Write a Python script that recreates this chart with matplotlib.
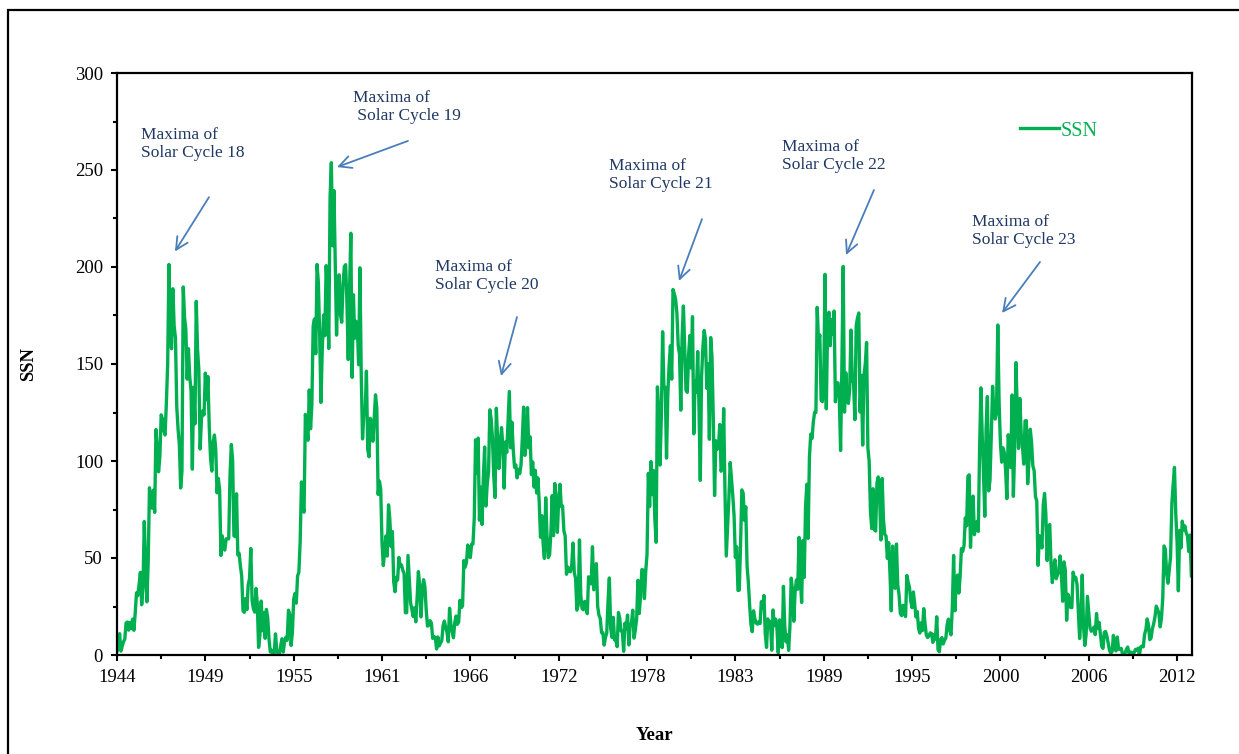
import matplotlib
matplotlib.use("Agg")
import matplotlib.pyplot as plt
from matplotlib.patches import Rectangle
from matplotlib.ticker import MultipleLocator, FixedLocator
import numpy as np

plt.rcParams["font.family"] = ["Liberation Serif", "DejaVu Serif"]

# monthly sunspot numbers, Jan 1944 - Dec 2012, one row per year
ssn_1940s = [
    [1.9, 3.5, 11.0, 2.0, 4.5, 6.8, 8.2, 16.5, 17.0, 12.8, 16.8, 13.6],
    [18.5, 12.7, 21.5, 32.0, 30.6, 36.2, 42.6, 25.9, 34.9, 68.8, 46.0, 27.4],
    [47.6, 86.2, 76.6, 75.7, 84.9, 73.5, 116.2, 107.2, 94.4, 102.3, 123.8, 121.7],
    [115.7, 113.4, 129.8, 149.8, 201.3, 163.9, 157.9, 188.8, 169.4, 163.6, 128.0, 116.5],
    [108.5, 86.1, 94.8, 189.7, 174.0, 167.8, 142.2, 157.9, 143.3, 136.3, 95.8, 138.0],
    [119.1, 182.3, 157.5, 147.0, 106.2, 121.7, 125.8, 123.8, 145.3, 131.6, 143.5, 117.6],
]
ssn_1950s = [
    [101.6, 94.8, 109.7, 113.4, 106.2, 83.6, 91.0, 85.2, 51.3, 61.4, 54.8, 54.1],
    [59.9, 59.9, 59.9, 92.9, 108.5, 100.6, 61.5, 61.0, 83.1, 51.6, 52.4, 45.8],
    [40.7, 22.7, 22.0, 29.1, 23.4, 36.4, 39.3, 54.9, 28.2, 23.8, 22.1, 34.3],
    [26.5, 3.9, 10.0, 27.8, 12.5, 21.8, 8.6, 23.5, 19.3, 8.2, 1.6, 2.5],
    [0.2, 0.5, 10.9, 1.8, 0.8, 0.2, 4.8, 8.4, 1.5, 7.0, 9.2, 7.6],
    [23.1, 20.8, 4.9, 11.3, 28.9, 31.7, 26.7, 40.7, 42.7, 58.5, 89.2, 76.9],
    [73.6, 124.0, 118.4, 110.7, 136.6, 116.6, 129.1, 169.6, 173.2, 155.3, 201.3, 192.1],
    [165.0, 130.2, 157.4, 175.2, 164.6, 200.7, 187.2, 158.0, 235.8, 253.8, 210.9, 239.4],
    [202.5, 164.9, 190.7, 196.0, 175.3, 171.5, 191.4, 200.2, 201.2, 181.5, 152.3, 187.6],
    [217.4, 143.1, 185.7, 163.3, 172.0, 168.7, 149.6, 199.6, 145.2, 111.4, 124.0, 125.0],
]
ssn_1960s = [
    [146.3, 106.0, 102.2, 122.0, 119.6, 110.2, 121.7, 134.1, 127.2, 82.8, 89.6, 85.6],
    [57.9, 46.1, 53.0, 61.4, 51.0, 77.4, 70.2, 55.9, 63.6, 37.7, 32.6, 40.0],
    [38.7, 50.3, 45.6, 46.4, 43.7, 42.0, 21.8, 21.8, 51.3, 39.5, 26.9, 23.2],
    [19.8, 24.4, 17.1, 29.3, 43.0, 35.9, 19.6, 33.2, 38.8, 35.3, 23.4, 14.9],
    [15.3, 17.7, 16.5, 8.6, 9.5, 9.1, 3.1, 9.3, 4.7, 6.1, 7.4, 15.1],
    [17.5, 14.2, 11.7, 6.8, 24.1, 15.9, 11.9, 8.9, 16.8, 20.1, 15.8, 17.0],
    [28.2, 24.4, 25.3, 48.7, 45.3, 47.7, 56.7, 51.2, 50.2, 57.2, 57.2, 70.4],
    [110.9, 93.6, 111.8, 69.5, 86.5, 67.3, 91.5, 107.2, 76.8, 88.2, 94.3, 126.4],
    [121.8, 111.9, 92.2, 81.2, 127.2, 110.3, 96.1, 109.3, 117.2, 107.7, 86.0, 109.8],
    [104.4, 120.5, 135.8, 106.8, 120.0, 106.0, 96.8, 98.0, 91.3, 95.7, 93.5, 97.9],
]
ssn_1970s = [
    [111.5, 127.8, 102.9, 109.5, 127.5, 106.8, 112.5, 93.0, 99.5, 86.6, 95.2, 83.5],
    [91.3, 79.0, 60.7, 71.8, 57.5, 49.8, 81.0, 61.4, 50.2, 51.7, 63.2, 82.2],
    [61.5, 88.4, 80.1, 63.2, 80.5, 88.0, 76.5, 76.8, 64.0, 61.3, 41.6, 45.3],
    [43.4, 42.9, 46.0, 57.7, 42.4, 39.5, 23.1, 25.6, 59.3, 30.7, 23.9, 23.3],
    [27.6, 26.0, 21.3, 40.3, 39.5, 36.6, 55.8, 33.6, 40.2, 47.1, 25.0, 20.5],
    [18.9, 11.5, 11.5, 5.1, 9.0, 11.4, 28.2, 39.7, 13.9, 9.1, 19.4, 7.8],
    [8.1, 4.3, 21.9, 18.8, 12.4, 12.2, 1.9, 16.4, 13.5, 20.6, 5.2, 15.3],
    [16.4, 23.1, 8.7, 12.9, 18.6, 38.5, 21.4, 30.1, 44.0, 43.8, 29.1, 43.2],
    [51.9, 93.6, 76.5, 99.7, 82.7, 95.1, 70.4, 58.1, 138.2, 125.1, 97.9, 122.7],
    [166.6, 137.5, 138.0, 101.5, 134.4, 149.5, 159.4, 142.2, 188.4, 186.2, 183.3, 176.3],
]
ssn_1980s = [
    [159.6, 155.0, 126.2, 164.1, 179.9, 157.3, 136.3, 135.4, 155.0, 164.7, 147.9, 174.4],
    [114.0, 141.3, 135.5, 156.4, 127.5, 90.0, 143.8, 158.7, 167.3, 162.4, 137.5, 150.1],
    [111.2, 163.6, 153.8, 122.0, 82.2, 110.4, 106.1, 107.6, 118.8, 94.7, 98.1, 127.0],
    [84.3, 51.0, 66.5, 80.7, 99.2, 91.1, 82.2, 71.8, 50.3, 55.8, 33.3, 33.4],
    [57.0, 85.1, 83.5, 69.4, 76.4, 46.1, 37.4, 25.5, 15.7, 12.0, 22.8, 18.7],
    [16.5, 15.9, 17.2, 16.2, 27.5, 24.2, 30.7, 11.1, 3.9, 18.6, 16.2, 17.3],
    [2.5, 23.2, 15.1, 18.5, 13.7, 1.1, 18.1, 7.4, 3.8, 35.4, 15.2, 6.8],
    [10.4, 2.4, 14.7, 39.6, 33.0, 17.4, 33.0, 38.7, 33.9, 60.6, 39.9, 27.1],
    [59.0, 40.0, 76.2, 88.0, 60.1, 101.8, 113.8, 111.6, 120.1, 125.1, 125.1, 179.2],
    [161.3, 165.0, 131.4, 130.6, 138.5, 196.2, 126.9, 168.9, 176.7, 159.4, 173.0, 165.5],
]
ssn_1990s = [
    [177.3, 130.5, 140.3, 140.3, 132.2, 105.4, 149.4, 200.3, 125.2, 145.5, 131.4, 129.7],
    [136.9, 167.5, 141.9, 140.0, 121.3, 169.7, 173.7, 176.3, 125.3, 144.1, 108.2, 144.4],
    [150.0, 161.1, 106.7, 99.8, 73.8, 65.2, 85.7, 64.5, 63.9, 88.7, 91.8, 82.6],
    [59.3, 91.0, 69.8, 62.2, 61.3, 49.8, 57.9, 42.3, 22.8, 56.1, 35.0, 34.4],
    [57.2, 36.1, 31.1, 21.3, 20.3, 25.6, 21.9, 19.8, 41.0, 37.6, 35.0, 27.9],
    [24.4, 32.5, 26.8, 19.6, 22.4, 13.7, 11.3, 16.6, 12.6, 23.9, 16.1, 10.2],
    [9.0, 9.9, 11.4, 11.1, 6.5, 10.5, 8.1, 19.7, 2.7, 1.7, 7.9, 9.0],
    [5.7, 7.6, 8.7, 15.5, 18.5, 12.7, 10.4, 24.4, 51.3, 22.8, 39.0, 41.2],
    [31.9, 40.3, 54.8, 53.4, 56.3, 70.7, 66.6, 92.2, 92.9, 55.5, 74.0, 81.9],
    [62.0, 66.3, 68.8, 63.7, 106.4, 137.7, 113.5, 93.7, 71.5, 116.7, 133.2, 84.6],
]
ssn_2000s = [
    [90.1, 112.9, 138.5, 125.5, 121.6, 124.9, 170.1, 130.5, 109.7, 99.4, 106.8, 104.4],
    [95.6, 80.6, 113.5, 107.7, 96.6, 134.0, 81.8, 106.4, 150.7, 125.5, 106.5, 132.2],
    [114.1, 107.4, 98.4, 120.7, 120.8, 88.3, 99.6, 116.4, 109.6, 97.5, 95.0, 81.6],
    [79.5, 46.2, 61.5, 60.0, 55.2, 77.4, 83.3, 72.7, 48.7, 65.5, 67.3, 46.5],
    [37.3, 45.8, 49.1, 39.3, 41.5, 43.2, 51.1, 40.9, 27.7, 48.0, 43.5, 17.9],
    [31.3, 29.2, 24.5, 24.4, 42.7, 39.3, 40.0, 36.4, 22.1, 8.5, 18.0, 41.2],
    [15.3, 4.9, 10.6, 30.2, 22.3, 13.9, 12.2, 12.9, 14.4, 10.5, 21.4, 13.6],
    [16.8, 10.7, 4.5, 3.4, 11.7, 12.1, 9.7, 6.0, 2.4, 0.9, 1.7, 10.1],
    [3.3, 2.1, 9.3, 2.9, 3.2, 3.4, 0.5, 0.5, 1.1, 2.9, 4.1, 0.8],
    [1.5, 1.4, 0.7, 1.2, 2.9, 2.6, 3.5, 0.0, 4.2, 4.6, 4.2, 10.6],
]
ssn_2010s = [
    [13.1, 18.6, 15.4, 7.9, 8.8, 13.5, 16.1, 19.6, 25.2, 23.5, 21.6, 14.5],
    [19.0, 29.4, 56.2, 54.4, 41.6, 37.0, 43.9, 50.6, 78.0, 88.0, 96.7, 73.0],
    [58.3, 33.1, 64.2, 55.2, 69.0, 64.5, 66.5, 63.0, 61.4, 53.3, 61.8, 40.8],
]

tick_years = ["1944", "1949", "1955", "1961", "1966", "1972", "1978",
              "1983", "1989", "1995", "2000", "2006", "2012"]

# (label, text month index, text SSN, arrow start, arrow end)
maxima = [
    ("Maxima of\nSolar Cycle 18", 18.5, 272, (70.8, 236), (44.6, 208)),
    ("Maxima of\n Solar Cycle 19", 181.7, 291, (224, 265), (169.4, 251.5)),
    ("Maxima of\nSolar Cycle 20", 244.8, 204, (307.9, 174.2), (295.6, 143.8)),
    ("Maxima of\nSolar Cycle 21", 378.7, 256, (450.3, 224.7), (432.6, 192.8)),
    ("Maxima of\nSolar Cycle 22", 511.9, 266, (582.7, 239.7), (561.2, 206.2)),
    ("Maxima of\nSolar Cycle 23", 658.2, 227.3, (710.5, 202.6), (681.3, 176.3)),
]

ssn = np.concatenate([np.ravel(d) for d in
                      [ssn_1940s, ssn_1950s, ssn_1960s, ssn_1970s,
                       ssn_1980s, ssn_1990s, ssn_2000s, ssn_2010s]])
months = np.arange(len(ssn))

GREEN = "#00B050"
NAVY = "#1F3864"
ARROW = "#4A7EBB"

fig = plt.figure(figsize=(12.39, 7.54), dpi=100)
ax = fig.add_axes([117 / 1239, 1 - 655 / 754, (1192 - 117) / 1239, (655 - 73) / 754])

ax.plot(months, ssn, color=GREEN, lw=2.4, label="SSN")

ax.set_xlim(0, 827.5)
ax.set_ylim(0, 300)
ax.xaxis.set_major_locator(FixedLocator(np.arange(len(tick_years)) * 68))
ax.set_xticklabels(tick_years)
ax.xaxis.set_minor_locator(MultipleLocator(34))
ax.yaxis.set_major_locator(MultipleLocator(50))
ax.yaxis.set_minor_locator(MultipleLocator(25))

ax.tick_params(which="major", direction="out", length=4, width=1.5,
               labelsize=13.5, pad=6)
ax.tick_params(which="minor", direction="out", length=3, width=1.5)
for s in ax.spines.values():
    s.set_linewidth(1.6)

ax.set_xlabel("Year", fontsize=13.5, fontweight="bold")
ax.xaxis.set_label_coords(0.5, -(727 - 655) / 582)
ax.set_ylabel("SSN", fontsize=13.5, fontweight="bold")
ax.yaxis.set_label_coords(-(117 - 37) / 1076, 0.5)

for label, tx, ty, start, end in maxima:
    ax.text(tx, ty, label, color=NAVY, fontsize=12.5, ha="left", va="top",
            linespacing=1.15)
    ax.annotate("", xy=end, xytext=start,
                arrowprops=dict(arrowstyle="->", color=ARROW, lw=1.3,
                                mutation_scale=22, shrinkA=0, shrinkB=0))

leg = ax.legend(loc="center left", bbox_to_anchor=((1003 - 117) / 1076, 1 - (131 - 73) / 582),
                frameon=False, fontsize=14.5, handlelength=1.9, handletextpad=0.12)
for t in leg.get_texts():
    t.set_color(GREEN)

# outer chart-area border (cut at right and bottom)
fig.patches.append(Rectangle((8 / 1239, -0.1), 1.2, 1.1 - 10 / 754,
                             transform=fig.transFigure, fill=False,
                             edgecolor="black", lw=1.6))

fig.savefig("out.png", dpi=100)
